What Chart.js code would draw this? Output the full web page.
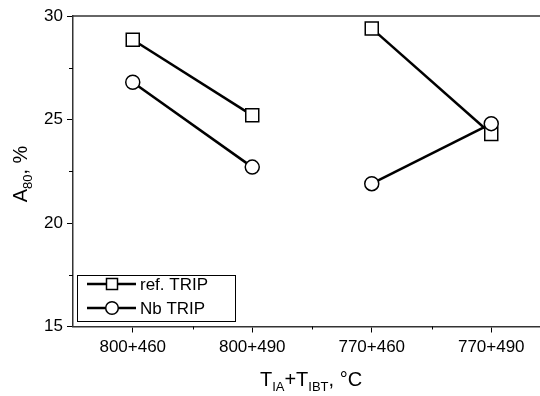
<!DOCTYPE html>
<html>
<head>
<meta charset="utf-8">
<script src="https://cdn.jsdelivr.net/npm/chart.js@4.4.1/dist/chart.umd.min.js"></script>
<style>
  html, body { margin: 0; padding: 0; background: #fff; overflow: hidden; }
  #wrap { width: 562px; height: 396px; }
  #chart { width: 562px; height: 396px; }
</style>
</head>
<body>
<div id="wrap"><canvas id="chart" width="562" height="396"></canvas></div>
<script>
// ---- data ----
const categories = ["800+460", "800+490", "770+460", "770+490"];
const refTrip    = [28.85, 25.2, 29.4, 24.3];
const nbTrip     = [26.8, 22.7, 21.9, 24.8];
const yTicks     = [15, 20, 25, 30];

const FONT = "'Liberation Sans', Arial, Helvetica, sans-serif";

// ---- helpers ----
function toPoints(values) {
  return values.map((v, i) => ({ x: i, y: v }));
}

// no line between the two temperature groups
const groupGap = {
  borderColor: ctx => ctx.p0DataIndex === 1 ? "rgba(0,0,0,0)" : "#000"
};

// ---- plugin: frame, minor ticks, axis titles, legend ----
const decorations = {
  id: "decorations",
  afterDraw(chart) {
    const c = chart.ctx;
    const a = chart.chartArea;
    const xs = chart.scales.x;
    const ys = chart.scales.y;

    c.save();
    c.strokeStyle = "#333";
    c.lineWidth = 1.5;
    c.beginPath();
    c.moveTo(a.left, a.top);
    c.lineTo(a.right + 10, a.top);
    c.stroke();

    // minor ticks
    c.lineWidth = 1;
    c.strokeStyle = "#000";
    c.beginPath();
    for (let v = 17.5; v < 30; v += 5) {
      const py = Math.round(ys.getPixelForValue(v)) + 0.5;
      c.moveTo(a.left - 4, py);
      c.lineTo(a.left, py);
    }
    for (let v = 0.5; v < 3; v += 1) {
      const px = Math.round(xs.getPixelForValue(v)) + 0.5;
      c.moveTo(px, a.bottom);
      c.lineTo(px, a.bottom + 3);
    }
    c.stroke();

    // axis titles with subscripts
    c.fillStyle = "#000";
    c.textBaseline = "alphabetic";
    function runs(parts) {
      let w = 0;
      parts.forEach(p => { c.font = p[1] + "px " + FONT; w += c.measureText(p[0]).width; });
      return w;
    }
    function drawRuns(parts, x0, base) {
      let x = x0;
      parts.forEach(p => {
        c.font = p[1] + "px " + FONT;
        c.fillText(p[0], x, base + p[2]);
        x += c.measureText(p[0]).width;
      });
    }
    const xTitle = [["T", 20, 0], ["IA", 13, 5], ["+T", 20, 0], ["IBT", 13, 5], [", \u00B0C", 20, 0]];
    const xw = runs(xTitle);
    drawRuns(xTitle, 311 - xw / 2, 386);

    const yTitle = [["A", 20, 0], ["80", 13, 5], [", %", 20, 0]];
    const yw = runs(yTitle);
    c.save();
    c.translate(27, 174);
    c.rotate(-Math.PI / 2);
    drawRuns(yTitle, -yw / 2, 0);
    c.restore();

    // legend
    c.lineWidth = 1;
    c.strokeStyle = "#000";
    c.strokeRect(77.5, 275.5, 158, 46);
    const rows = [
      { label: chart.data.datasets[0].label, style: "rect", y: 284 },
      { label: chart.data.datasets[1].label, style: "circle", y: 308 }
    ];
    rows.forEach(r => {
      c.lineWidth = 2.5;
      c.beginPath();
      c.moveTo(87, r.y);
      c.lineTo(136, r.y);
      c.stroke();
      c.fillStyle = "#fff";
      c.lineWidth = 1.5;
      if (r.style === "rect") {
        c.fillRect(106.5, r.y - 5.5, 11, 11);
        c.strokeRect(106.5, r.y - 5.5, 11, 11);
      } else {
        c.beginPath();
        c.arc(112, r.y, 6.3, 0, Math.PI * 2);
        c.fill();
        c.stroke();
      }
      c.fillStyle = "#000";
      c.font = "17px " + FONT;
      c.textBaseline = "middle";
      c.fillText(r.label, 140, r.y + 1);
      c.textBaseline = "alphabetic";
    });
    c.restore();
  }
};

// ---- chart ----
new Chart(document.getElementById("chart"), {
  type: "line",
  data: {
    datasets: [
      {
        label: "ref. TRIP",
        data: toPoints(refTrip),
        borderColor: "#000",
        borderWidth: 2.5,
        pointStyle: "rect",
        pointRadius: 9.2,
        pointBorderWidth: 1.5,
        pointBackgroundColor: "#fff",
        pointBorderColor: "#000",
        segment: groupGap,
        order: 1
      },
      {
        label: "Nb TRIP",
        data: toPoints(nbTrip),
        borderColor: "#000",
        borderWidth: 2.5,
        pointStyle: "circle",
        pointRadius: 7,
        pointBorderWidth: 1.5,
        pointBackgroundColor: "#fff",
        pointBorderColor: "#000",
        segment: groupGap,
        order: 0
      }
    ]
  },
  options: {
    responsive: false,
    animation: false,
    layout: { padding: { top: 16, right: 11, left: 0, bottom: 0 } },
    plugins: { legend: { display: false }, tooltip: { enabled: false } },
    scales: {
      x: {
        type: "linear",
        min: -0.5,
        max: 3.5,
        afterBuildTicks: s => { s.ticks = categories.map((_, i) => ({ value: i })); },
        afterFit: s => { s.height = 69.5; },
        grid: { drawOnChartArea: false, tickLength: 6, color: "#000", tickColor: "#000" },
        border: { display: true, color: "#333", width: 1.5 },
        ticks: {
          color: "#000",
          padding: 5,
          font: { family: FONT, size: 17 },
          maxRotation: 0,
          callback: v => categories[v]
        }
      },
      y: {
        min: 15,
        max: 30,
        afterBuildTicks: s => { s.ticks = yTicks.map(v => ({ value: v })); },
        afterFit: s => { s.width = 73; },
        grid: { drawOnChartArea: false, tickLength: 6, color: "#000", tickColor: "#000" },
        border: { display: true, color: "#333", width: 1.5 },
        ticks: {
          color: "#000",
          padding: 4,
          font: { family: FONT, size: 17 }
        }
      }
    }
  },
  plugins: [decorations]
});
</script>
</body>
</html>
